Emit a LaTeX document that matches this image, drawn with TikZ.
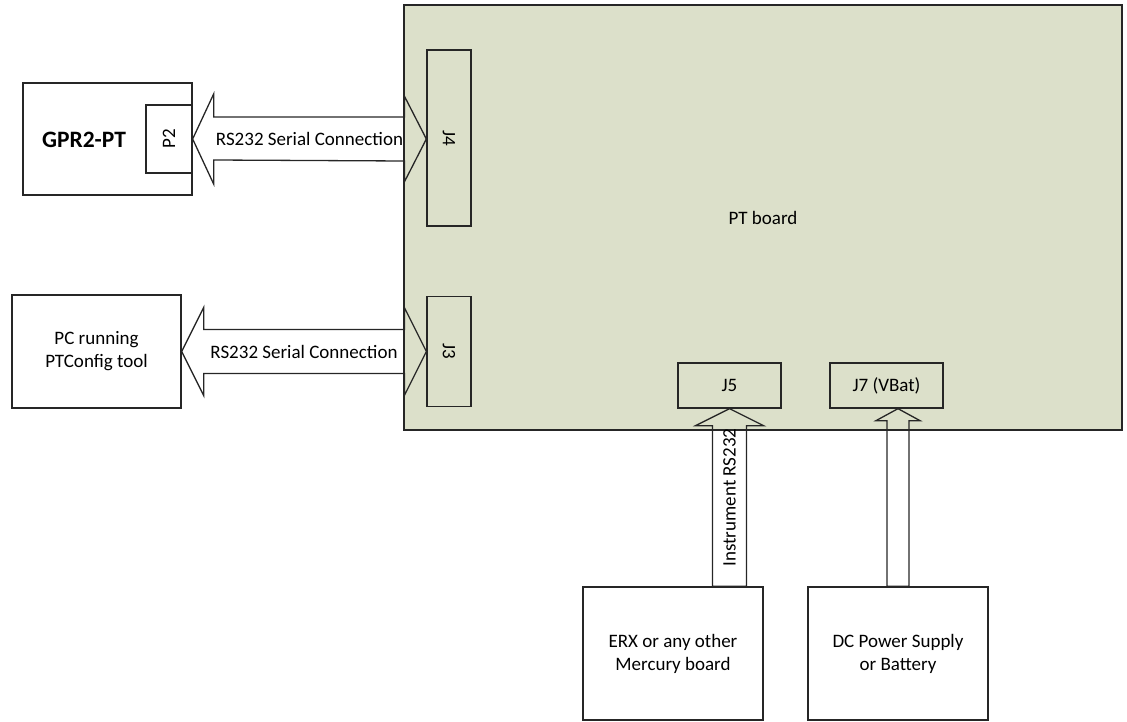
\documentclass[tikz,border=0pt]{standalone}
\usepackage{fontspec}
\setmainfont{Carlito}
\usepackage{graphicx}
\usetikzlibrary{calc}
\definecolor{boardgreen}{RGB}{220,224,202}

\begin{document}
\begin{tikzpicture}[x=1pt, y=-1pt,
            box/.style={draw=black!85, line width=1.3pt, inner sep=0pt, align=center,
                        font=\fontsize{19}{23}\selectfont},
            blockarrow/.style={draw=black!85, line width=1.3pt, line join=miter},
            arrowtext/.style={font=\fontsize{19}{23}\selectfont, inner sep=0pt}]
            \useasboundingbox (0,0) rectangle (1127,722);
            \node[box, fill=boardgreen, minimum width=718, minimum height=425] (board) at (763,217.5) {PT board};
            \node[box, minimum width=44, minimum height=176] (j4) at (449,138) {\rotatebox{-90}{J4}};
            \node[box, minimum width=44, minimum height=110] (j3) at (449,351.5) {\rotatebox{-90}{J3}};
            \node[box, minimum width=103, minimum height=45] (j5) at (729.5,385.5) {J5};
            \node[box, minimum width=113, minimum height=45] (j7) at (886.5,385.5) {J7 (VBat)};
            \node[box, minimum width=169, minimum height=112] (gpr) at (107.5,139) {};
            \node[font=\fontsize{23.5}{28}\selectfont\bfseries] (gprname) at (84,140) {GPR2-PT};
            \node[box, minimum width=46, minimum height=68] (p2) at (169,139) {\rotatebox{90}{P2}};
            \node[box, minimum width=169, minimum height=113] (pc) at (96.5,351.5) {PC running\\PTConfig tool};
            \node[box, minimum width=180, minimum height=133] (erx) at (673,653.5) {ERX or any other\\Mercury board};
            \node[box, minimum width=180, minimum height=133] (dc) at (898,653.5) {DC Power Supply\\or Battery};

            \coordinate (a1l) at (p2.east);
            \coordinate (a1r) at (j4.west |- p2.east);
            \draw[blockarrow] (a1l) -- ++(21,-45) -- ++(0,23) -- ($(a1r)+(-22,-22)$) -- ++(0,-21)
                -- (a1r) -- ++(-22,43) -- ++(0,-21) -- ($(a1l)+(21,21)$) -- ++(0,24) -- cycle;
            \node[arrowtext] (a1text) at ($(a1l)!0.5!(a1r)$) {RS232 Serial Connection};

            \coordinate (a2l) at (pc.east);
            \coordinate (a2r) at (j3.west |- pc.east);
            \draw[blockarrow] (a2l) -- ++(22,-44) -- ++(0,22) -- ($(a2r)+(-22,-22)$) -- ++(0,-22)
                -- (a2r) -- ++(-22,44) -- ++(0,-22) -- ($(a2l)+(22,22)$) -- ++(0,22) -- cycle;
            \node[arrowtext] (a2text) at ($(a2l)!0.5!(a2r)$) {RS232 Serial Connection};

            \coordinate (a3b) at (j5.south |- erx.north);
            \draw[blockarrow] (j5.south) -- ++(-34,17) -- ++(17,0) -- ($(a3b)+(-17,0)$)
                -- ($(a3b)+(17,0)$) -- ($(j5.south)+(17,17)$) -- ++(17,0) -- cycle;
            \node[arrowtext, rotate=90] (a3text) at ($(j5.south)!0.5!(a3b)$) {Instrument RS232};

            \coordinate (a4t) at (dc.north |- j7.south);
            \draw[blockarrow] (a4t) -- ++(-22,12) -- ++(11,0) -- ($(dc.north)+(-11,0)$)
                -- ($(dc.north)+(11,0)$) -- ($(a4t)+(11,12)$) -- ++(11,0) -- cycle;
        \end{tikzpicture}
\end{document}
